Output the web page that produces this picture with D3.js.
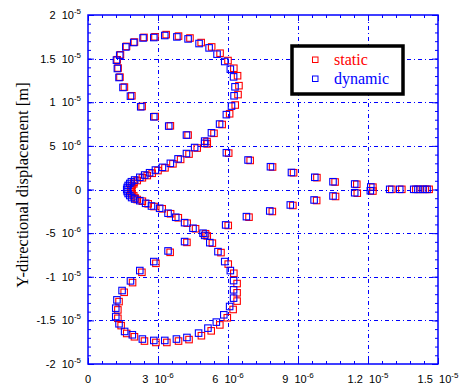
<!DOCTYPE html>
<html>
<head>
<meta charset="utf-8">
<script src="https://cdn.jsdelivr.net/npm/d3@7"></script>
<style>
  body { margin: 0; background: #fff; }
  svg { display: block; }
</style>
</head>
<body>
<div id="chart"></div>
<script>
// displacement values in units of 1e-6 m
const dynX = [14.53, 14.36, 14.14, 13.96, 13.36, 12.93, 12.12, 11.43, 10.50, 9.72, 8.72, 7.82, 6.86, 5.93, 5.00,
  4.22, 3.46, 2.82, 2.26, 1.82, 1.50, 1.33, 1.26, 1.22, 1.36, 1.62, 1.96, 2.36, 2.82, 3.29, 3.81, 4.29, 4.76, 5.19,
  5.53, 5.86, 6.10, 6.24, 6.30, 6.26, 6.15, 5.93, 5.64, 5.29, 5.00, 4.57, 4.22, 3.86, 3.53, 3.19, 2.89, 2.64, 2.43,
  2.22, 2.00, 1.86, 1.79, 1.72, 1.68, 1.66, 1.68, 1.72, 1.79, 1.87, 2.00, 2.22, 2.47, 2.72, 3.07, 3.43, 3.76, 4.14,
  4.50, 4.93, 5.22, 5.57, 5.86, 6.10, 6.24, 6.24, 6.24, 6.07, 5.82, 5.50, 5.14, 4.74, 4.24, 3.79, 3.29, 2.82, 2.33,
  1.90, 1.57, 1.33, 1.19, 1.19, 1.24, 1.46, 1.82, 2.22, 2.82, 3.43, 4.14, 5.00, 5.90, 6.79, 7.79, 8.67, 9.69, 10.50,
  11.43, 12.10];
const dynY = [0.02, 0.02, 0.02, 0.02, 0.02, 0.02, 0.29, 0.63, 0.89, 1.40, 1.95, 2.61, 3.38, 4.21, 5.55,
  6.24, 7.27, 8.33, 9.48, 10.70, 11.70, 12.84, 13.87, 14.82, 15.39, 16.34, 16.85, 17.37, 17.42, 17.65, 17.49, 17.26,
  16.73, 16.23, 15.51, 14.67, 13.79, 12.91, 11.77, 10.74, 9.56, 8.58, 7.50, 6.50, 5.29, 4.81, 4.12, 3.51, 3.00, 2.54,
  2.23, 1.92, 1.66, 1.40, 1.09, 0.89, 0.69, 0.46, 0.23, 0, -0.23, -0.46, -0.69, -0.92, -1.09, -1.28, -1.58, -1.89,
  -2.15, -2.72, -3.18, -3.80, -4.44, -5.01, -6.09, -7.12, -8.26, -9.29, -10.44, -11.50, -12.45, -13.41, -14.36,
  -15.20, -15.89, -16.46, -16.96, -17.14, -17.30, -17.30, -17.14, -16.65, -16.27, -15.39, -14.56, -13.60, -12.65,
  -11.58, -10.47, -9.29, -8.26, -7.04, -5.97, -5.26, -4.06, -3.11, -2.46, -1.77, -1.20, -0.74, -0.37, -0.14];

const statX = [14.62, 14.45, 14.23, 14.05, 13.45, 13.02, 12.21, 11.52, 10.59, 9.81, 8.81, 7.91, 6.95, 6.03, 5.10,
  4.29, 3.53, 2.88, 2.32, 1.88, 1.56, 1.37, 1.29, 1.25, 1.39, 1.65, 1.99, 2.40, 2.87, 3.35, 3.88, 4.37, 4.85, 5.30,
  5.66, 6.00, 6.25, 6.41, 6.47, 6.43, 6.31, 6.07, 5.75, 5.40, 5.11, 4.68, 4.33, 3.97, 3.64, 3.30, 3.00, 2.75, 2.54,
  2.33, 2.11, 1.97, 1.96, 1.89, 1.85, 1.83, 1.85, 1.89, 1.96, 2.02, 2.11, 2.33, 2.58, 2.83, 3.18, 3.54, 3.87, 4.25,
  4.61, 5.04, 5.33, 5.70, 6.01, 6.25, 6.39, 6.39, 6.39, 6.22, 5.97, 5.65, 5.28, 4.86, 4.33, 3.88, 3.38, 2.91, 2.42,
  1.99, 1.66, 1.42, 1.28, 1.28, 1.33, 1.55, 1.91, 2.31, 2.91, 3.52, 4.24, 5.11, 6.01, 6.90, 7.90, 8.78, 9.80, 10.61,
  11.54, 12.21];
const statY = [0.02, 0.02, 0.02, 0.02, 0.02, 0.02, 0.27, 0.60, 0.86, 1.36, 1.92, 2.58, 3.33, 4.17, 5.50,
  6.24, 7.30, 8.36, 9.52, 10.74, 11.74, 12.88, 13.92, 14.87, 15.44, 16.40, 16.90, 17.43, 17.50, 17.75, 17.58, 17.36,
  16.84, 16.34, 15.62, 14.78, 13.90, 13.04, 11.90, 10.88, 9.68, 8.68, 7.45, 6.44, 5.23, 4.75, 4.06, 3.45, 2.94, 2.48,
  2.17, 1.86, 1.60, 1.34, 1.03, 0.83, 0.65, 0.42, 0.20, -0.03, -0.26, -0.50, -0.73, -0.97, -1.15, -1.34, -1.64, -1.95,
  -2.21, -2.78, -3.24, -3.86, -4.50, -5.07, -6.15, -7.23, -8.55, -9.60, -10.78, -11.84, -12.79, -13.75, -14.70,
  -15.52, -16.20, -16.76, -17.20, -17.37, -17.53, -17.53, -17.37, -16.88, -16.50, -15.60, -14.76, -13.80, -12.85,
  -11.78, -10.67, -9.49, -8.46, -7.20, -6.06, -5.32, -4.12, -3.17, -2.52, -1.83, -1.26, -0.80, -0.42, -0.18];

const xTicks = [0, 3, 6, 9, 12, 15];
const xMant = ["0", "3", "6", "9", "1.2", "1.5"];
const xExp = ["", "-6", "-6", "-6", "-5", "-5"];
const yTicks = [20, 15, 10, 5, 0, -5, -10, -15, -20];
const yMant = ["2", "1.5", "1", "5", "0", "-5", "-1", "-1.5", "-2"];
const yExp = ["-5", "-5", "-5", "-6", "", "-6", "-5", "-5", "-5"];
const seriesNames = ["static", "dynamic"];
const seriesColors = ["#ff0000", "#0000ff"];

const W = 463, H = 387;
const m = { left: 88, right: 438, top: 15, bottom: 364 };
const blue = "#0000ff";

const svg = d3.select("#chart").append("svg")
  .attr("width", W).attr("height", H);
svg.append("rect").attr("width", W).attr("height", H).attr("fill", "#fff");

const x = d3.scaleLinear().domain([0, 15]).range([m.left, m.right]);
const y = d3.scaleLinear().domain([-20, 20]).range([m.bottom, m.top]);

// grid
const grid = svg.append("g")
  .attr("stroke", blue).attr("stroke-width", 1)
  .attr("stroke-dasharray", "4,3,1,3");
grid.selectAll("line.gx").data(xTicks.slice(1, -1)).join("line")
  .attr("x1", d => x(d) + 0.5).attr("x2", d => x(d) + 0.5)
  .attr("y1", m.top).attr("y2", m.bottom);
grid.selectAll("line.gy").data(yTicks.slice(1, -1)).join("line")
  .attr("y1", d => Math.round(y(d)) + 0.5).attr("y2", d => Math.round(y(d)) + 0.5)
  .attr("x1", m.left).attr("x2", m.right);

// ticks on all four sides, pointing in
const minorX = d3.range(0, 15.001, 0.6);
const minorY = d3.range(-20, 20.001, 1);
function ticks(axis, tr, vals, size) {
  const g = svg.append("g").attr("transform", tr)
    .call(axis.tickValues(vals).tickSize(size).tickFormat(""));
  g.select(".domain").remove();
  g.selectAll("line").attr("stroke", blue).attr("stroke-width", 1);
}
ticks(d3.axisBottom(x), `translate(0,${m.bottom})`, minorX, -3);
ticks(d3.axisTop(x), `translate(0,${m.top})`, minorX, -3);
ticks(d3.axisLeft(y), `translate(${m.left},0)`, minorY, -3);
ticks(d3.axisRight(y), `translate(${m.right},0)`, minorY, -3);
ticks(d3.axisBottom(x), `translate(0,${m.bottom})`, xTicks, -6);
ticks(d3.axisTop(x), `translate(0,${m.top})`, xTicks, -6);
ticks(d3.axisLeft(y), `translate(${m.left},0)`, yTicks, -6);
ticks(d3.axisRight(y), `translate(${m.right},0)`, yTicks, -6);

svg.append("rect")
  .attr("x", m.left).attr("y", m.top)
  .attr("width", m.right - m.left).attr("height", m.bottom - m.top)
  .attr("fill", "none").attr("stroke", blue).attr("stroke-width", 1.5);

// tick labels
function label(sel, mant, exp) {
  sel.append("tspan").text(mant);
  if (exp) {
    sel.append("tspan").text("\u00a0\u00a010");
    sel.append("tspan").attr("font-size", 8).attr("dy", -5).text(exp);
  }
}
xTicks.forEach((v, i) => {
  const t = svg.append("text")
    .attr("x", x(v)).attr("y", 383)
    .attr("text-anchor", "middle")
    .attr("font-family", "Liberation Sans, Arial, sans-serif")
    .attr("font-size", 11).attr("fill", "#000");
  label(t, xMant[i], xExp[i]);
});
yTicks.forEach((v, i) => {
  const t = svg.append("text")
    .attr("x", 81).attr("y", y(v) + 4)
    .attr("text-anchor", "end")
    .attr("font-family", "Liberation Sans, Arial, sans-serif")
    .attr("font-size", 11).attr("fill", "#000");
  label(t, yMant[i], yExp[i]);
});

svg.append("text")
  .attr("transform", "translate(28,185) rotate(-90)")
  .attr("text-anchor", "middle")
  .attr("font-family", "Liberation Serif, Times New Roman, serif")
  .attr("font-size", 16.5).attr("fill", "#000")
  .text("Y-directional displacement [m]");

// markers
const sz = 6.5;
function squares(xs, ys, color) {
  svg.append("g").selectAll("rect").data(xs.map((v, i) => [v, ys[i]])).join("rect")
    .attr("x", d => x(d[0]) - sz / 2).attr("y", d => y(d[1]) - sz / 2)
    .attr("width", sz).attr("height", sz)
    .attr("fill", "none").attr("stroke", color).attr("stroke-width", 1.1);
}
squares(statX, statY, seriesColors[0]);
squares(dynX, dynY, seriesColors[1]);

// legend
const lg = svg.append("g");
lg.append("rect").attr("x", 292).attr("y", 46).attr("width", 111).attr("height", 48)
  .attr("fill", "#fff").attr("stroke", "#000").attr("stroke-width", 3.5);
seriesNames.forEach((n, i) => {
  const cy = 60 + i * 19;
  lg.append("rect").attr("x", 312.5).attr("y", cy - 3).attr("width", 5.5).attr("height", 5.5)
    .attr("fill", "none").attr("stroke", seriesColors[i]).attr("stroke-width", 1);
  lg.append("text").attr("x", 334).attr("y", cy + 5)
    .attr("font-family", "Liberation Serif, Times New Roman, serif")
    .attr("font-size", 16).attr("fill", seriesColors[i]).text(n);
});
</script>
</body>
</html>
